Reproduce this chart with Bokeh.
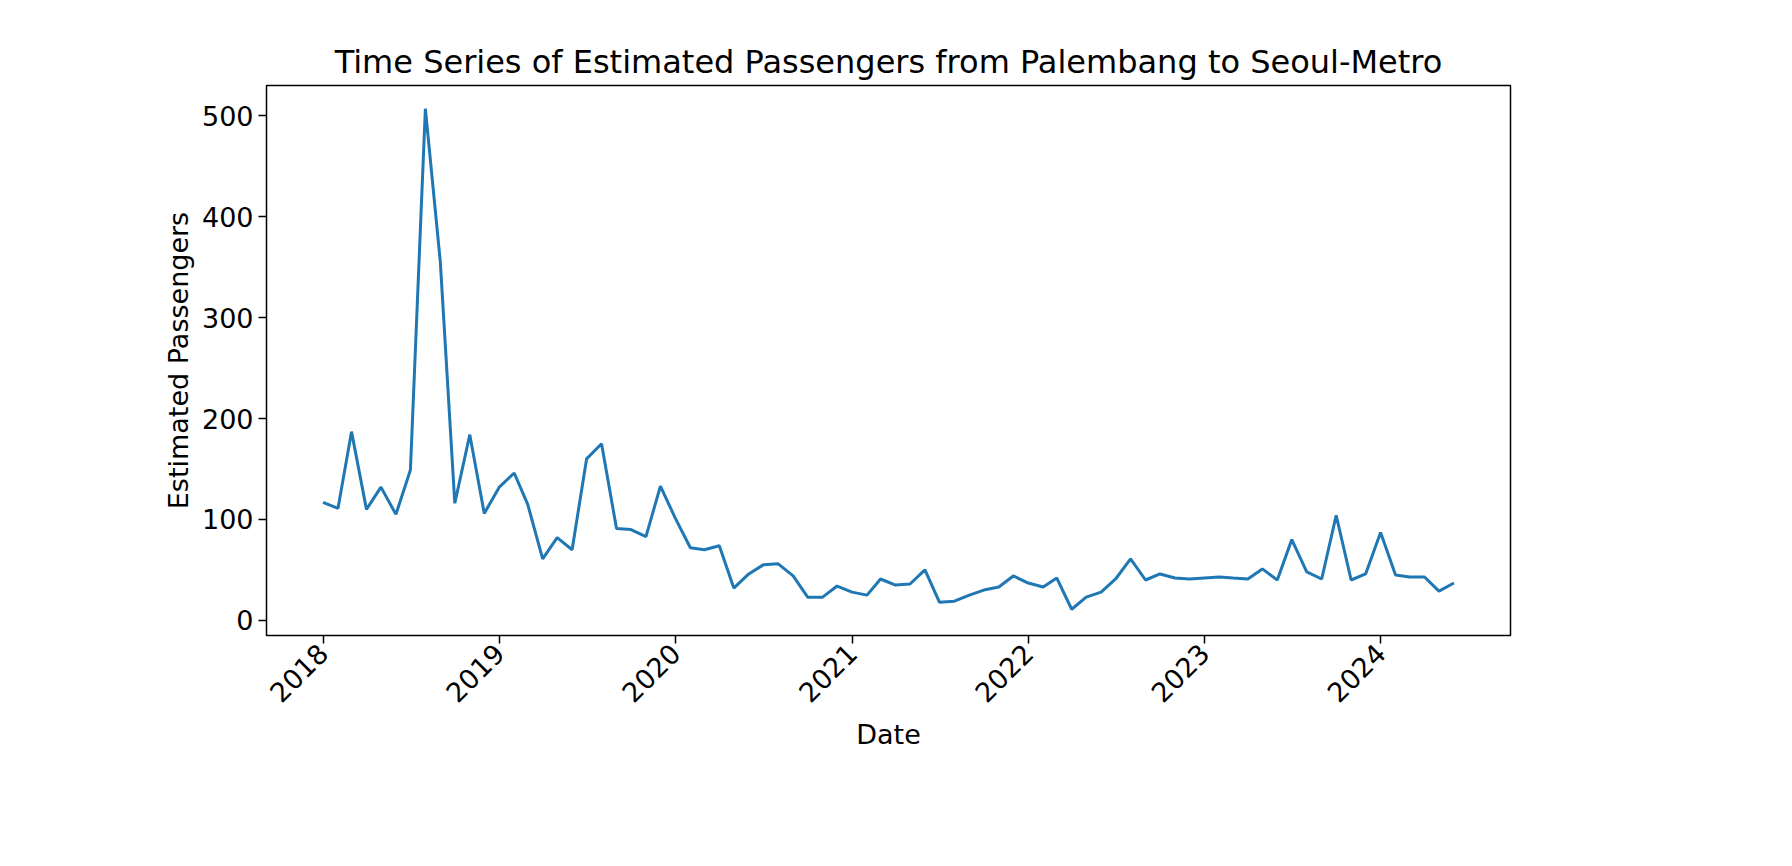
from datetime import datetime
import math
from bokeh.plotting import figure
from bokeh.models import FixedTicker, DatetimeTickFormatter, Range1d
from bokeh.embed import file_html
from bokeh.resources import INLINE

# monthly values Jan 2018 .. Jun 2024
passengers = [
    117, 111, 187, 110, 132, 105, 149, 507, 355, 116, 184, 106,
    132, 146, 115, 61, 82, 70, 160, 175, 91, 90, 83, 133,
    101, 72, 70, 74, 32, 46, 55, 56, 44, 23, 23, 34,
    28, 25, 41, 35, 36, 50, 18, 19, 25, 30, 33, 44,
    37, 33, 42, 11, 23, 28, 41, 61, 40, 46, 42, 41,
    42, 43, 42, 41, 51, 40, 80, 48, 41, 104, 40, 46,
    87, 45, 43, 43, 29, 37,
]
dates = [datetime(2018 + i // 12, i % 12 + 1, 1) for i in range(len(passengers))]
years = list(range(2018, 2025))

pad = (dates[-1] - dates[0]) * 0.05

p = figure(
    frame_width=1244, frame_height=550,
    x_axis_type="datetime",
    x_range=Range1d(dates[0] - pad, dates[-1] + pad),
    y_range=Range1d(-15, 530),
    title="Time Series of Estimated Passengers from Palembang to Seoul-Metro",
    output_backend="svg", toolbar_location=None,
    min_border_left=266, min_border_right=260, min_border_top=85,
    min_border_bottom=190,
)
p.title.text_font = "DejaVu Sans"
p.title.text_font_size = "32px"
p.title.text_font_style = "normal"
p.title.text_color = "black"
p.title.align = "center"

p.line(dates, passengers, line_color="#1f77b4", line_width=3)

p.xaxis.ticker = FixedTicker(ticks=[datetime(y, 1, 1).timestamp() * 1000 for y in years])
p.xaxis.formatter = DatetimeTickFormatter(years="%Y", months="%Y", days="%Y")
p.xaxis.major_label_orientation = math.pi / 4
p.yaxis.ticker = FixedTicker(ticks=[0, 100, 200, 300, 400, 500])
p.xaxis.axis_label = "Date"
p.yaxis.axis_label = "Estimated Passengers"

for ax in (p.xaxis, p.yaxis):
    ax.axis_label_text_font = "DejaVu Sans"
    ax.axis_label_text_font_size = "27px"
    ax.axis_label_text_font_style = "normal"
    ax.axis_label_text_color = "black"
    ax.major_label_text_font = "DejaVu Sans"
    ax.major_label_text_font_size = "27px"
    ax.major_label_text_color = "black"
    ax.axis_line_color = None
    ax.major_tick_line_color = "black"
    ax.major_tick_line_width = 1.5
    ax.major_tick_out = 8
    ax.major_tick_in = 0
    ax.minor_tick_line_color = None

p.grid.grid_line_color = None
p.outline_line_color = "black"
p.outline_line_width = 1.5

open("out.html", "w").write(file_html(p, INLINE))
